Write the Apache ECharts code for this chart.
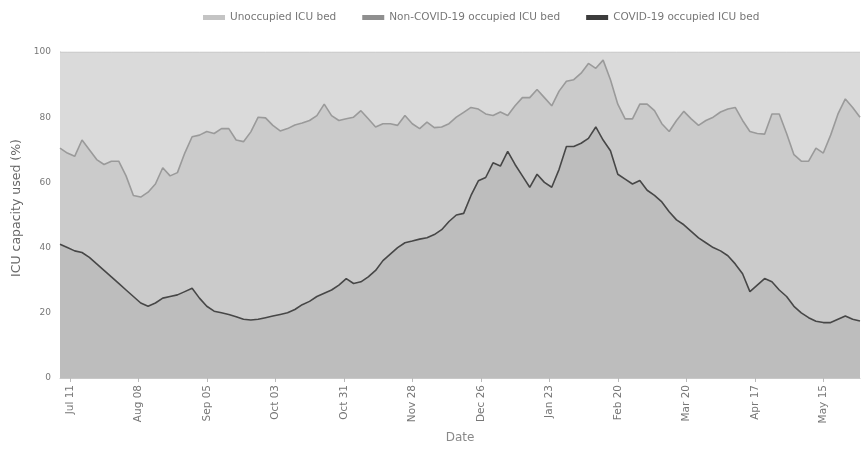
<!DOCTYPE html>
<html>
<head>
<meta charset="utf-8">
<script src="https://cdn.jsdelivr.net/npm/echarts@6/dist/echarts.min.js"></script>
<style>
  html, body { margin: 0; padding: 0; background: #fff; }
  #chart { width: 861px; height: 449px; }
</style>
</head>
<body>
<div id="chart"></div>
<script>
// Daily ICU capacity, sampled every 3 days starting 7 Jul 2020.
const startDate = '2020-07-07';
const stepDays = 3;
const lastDay = 327;

// Share of ICU capacity occupied by COVID patients (%)
const covidPct = [
  41, 40, 39, 38.5, 37, 35, 33, 31, 29, 27,
  25, 23, 22, 23, 24.5, 25, 25.5, 26.5, 27.5, 24.5,
  22, 20.5, 20, 19.5, 18.8, 18, 17.8, 18, 18.5, 19,
  19.5, 20, 21, 22.5, 23.5, 25, 26, 27, 28.5, 30.5,
  29, 29.5, 31, 33, 36, 38, 40, 41.5, 42, 42.6,
  43, 44, 45.5, 48, 50, 50.5, 56, 60.5, 61.5, 66,
  65, 69.5, 65.5, 62, 58.5, 62.5, 60, 58.5, 64, 71,
  71, 72, 73.5, 77, 73, 69.7, 62.5, 61, 59.5, 60.6,
  57.6, 56, 54, 51, 48.5, 47, 45, 43, 41.5, 40,
  39, 37.5, 35, 32, 26.5, 28.5, 30.5, 29.5, 27, 25,
  22, 20, 18.5, 17.4, 17, 17, 18, 19, 18, 17.5
];

// Total share of ICU capacity occupied (COVID + non-COVID, %)
const occupiedPct = [
  70.5, 69, 68, 73, 70, 67, 65.5, 66.5, 66.5, 62,
  56, 55.5, 57, 59.5, 64.5, 62, 63, 69, 74, 74.5,
  75.6, 75, 76.5, 76.5, 73, 72.5, 75.5, 80, 79.8, 77.5,
  75.8, 76.5, 77.6, 78.2, 79, 80.5, 84, 80.5, 79, 79.5,
  80, 82, 79.5, 77, 78, 78, 77.5, 80.5, 78, 76.5,
  78.5, 76.8, 77, 78, 80, 81.5, 83, 82.5, 81, 80.5,
  81.6, 80.5, 83.5, 86, 86, 88.5, 86, 83.5, 88, 91,
  91.5, 93.5, 96.5, 95, 97.5, 91.5, 84, 79.5, 79.5, 84,
  84, 82, 78, 75.6, 79, 81.8, 79.5, 77.5, 79, 80,
  81.6, 82.5, 83, 79, 75.6, 75, 74.8, 81, 81, 75,
  68.5, 66.5, 66.5, 70.5, 69, 74.5, 81, 85.6, 83, 80
];

// Day offsets that carry a date label, every four weeks
const labelDays = [4, 32, 60, 88, 116, 144, 172, 200, 228, 256, 284, 312];

const seriesNames = ['Unoccupied ICU bed', 'Non-COVID-19 occupied ICU bed', 'COVID-19 occupied ICU bed'];

const monthNames = ['Jan','Feb','Mar','Apr','May','Jun','Jul','Aug','Sep','Oct','Nov','Dec'];
const t0 = Date.parse(startDate + 'T00:00:00Z');
function dayLabel(d) {
  const dt = new Date(t0 + Math.round(d) * 86400000);
  const dd = dt.getUTCDate();
  return monthNames[dt.getUTCMonth()] + ' ' + (dd < 10 ? '0' + dd : dd);
}

const days = covidPct.map((_, i) => Math.min(i * stepDays, lastDay));
const unoccupiedPct = occupiedPct.map((v) => 100 - v);

// The three bands are layered: each area is drawn up to the top of its
// band (cumulative share), later series painted over earlier ones.
const covidTop = covidPct.map((v, i) => [days[i], v]);
const nonCovidTop = occupiedPct.map((v, i) => [days[i], v]);
const unoccupiedTop = unoccupiedPct.map((v, i) => [days[i], occupiedPct[i] + v]);

const chart = echarts.init(document.getElementById('chart'), null, { renderer: 'canvas' });

const axisText = { color: '#777', fontFamily: 'DejaVu Sans', fontSize: 9 };

chart.setOption({
  animation: false,
  backgroundColor: '#ffffff',
  textStyle: { fontFamily: 'DejaVu Sans' },
  legend: {
    top: 7,
    left: 198,
    itemGap: 26,
    itemWidth: 22,
    itemHeight: 5,
    icon: 'rect',
    textStyle: { color: '#777', fontSize: 10.5, fontFamily: 'DejaVu Sans' },
    data: [
      { name: seriesNames[0], itemStyle: { color: '#c4c4c4' } },
      { name: seriesNames[1], itemStyle: { color: '#8f8f8f' } },
      { name: seriesNames[2], itemStyle: { color: '#3c3c3c' } }
    ]
  },
  grid: { left: 60, right: 1, top: 52, bottom: 64, containLabel: false },
  xAxis: {
    type: 'value',
    min: 0,
    max: lastDay,
    name: 'Date',
    nameLocation: 'middle',
    nameGap: 54,
    nameTextStyle: { color: '#888', fontSize: 12, fontFamily: 'DejaVu Sans' },
    axisLine: { show: true, lineStyle: { color: '#c8c8c8' } },
    axisTick: { show: true, length: 4, lineStyle: { color: '#bbb' }, customValues: labelDays },
    splitLine: { show: false },
    axisLabel: Object.assign({}, axisText, {
      fontSize: 10.5,
      rotate: 90,
      margin: 7,
      customValues: labelDays,
      formatter: (v) => dayLabel(v)
    })
  },
  yAxis: {
    type: 'value',
    min: 0,
    max: 100,
    interval: 20,
    name: 'ICU capacity used (%)',
    nameLocation: 'middle',
    nameGap: 36,
    nameTextStyle: { color: '#666', fontSize: 12.5, fontFamily: 'DejaVu Sans', padding: [0, 0, 0, 14] },
    axisLine: { show: true, lineStyle: { color: '#c8c8c8' } },
    axisTick: { show: false },
    splitLine: { show: false },
    axisLabel: Object.assign({}, axisText, { margin: 9 })
  },
  series: [
    {
      name: seriesNames[0],
      type: 'line',
      symbol: 'none',
      data: unoccupiedTop,
      lineStyle: { color: '#c2c2c2', width: 1 },
      itemStyle: { color: '#c2c2c2' },
      areaStyle: { color: '#dadada', opacity: 1 },
      z: 2
    },
    {
      name: seriesNames[1],
      type: 'line',
      symbol: 'none',
      data: nonCovidTop,
      lineStyle: { color: '#9a9a9a', width: 1.6 },
      itemStyle: { color: '#9a9a9a' },
      areaStyle: { color: '#cbcbcb', opacity: 1 },
      z: 3
    },
    {
      name: seriesNames[2],
      type: 'line',
      symbol: 'none',
      data: covidTop,
      lineStyle: { color: '#474747', width: 1.6 },
      itemStyle: { color: '#474747' },
      areaStyle: { color: '#bdbdbd', opacity: 1 },
      z: 4
    }
  ]
});
</script>
</body>
</html>
